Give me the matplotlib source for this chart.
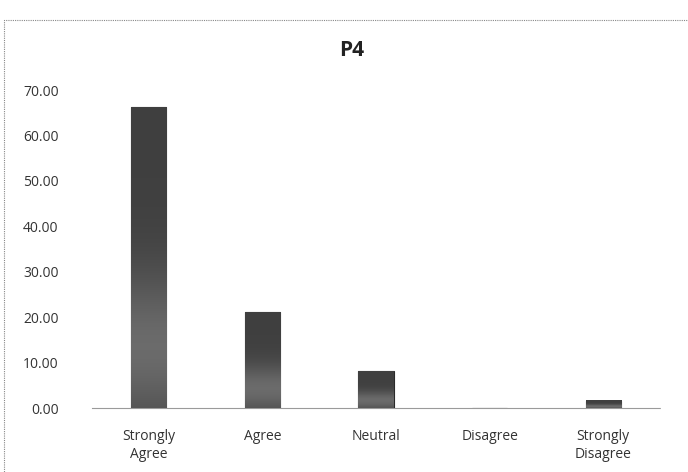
import matplotlib
matplotlib.use("Agg")
import matplotlib.pyplot as plt
import numpy as np
from matplotlib.patches import Rectangle

categories = ["Strongly\nAgree", "Agree", "Neutral", "Disagree", "Strongly\nDisagree"]
values = [66.2, 21.1, 8.1, 0.0, 1.6]
yticks = [0, 10, 20, 30, 40, 50, 60, 70]
ytick_labels = ["0.00", "10.00", "20.00", "30.00", "40.00", "50.00", "60.00", "70.00"]
title = "P4"

plt.rcParams['font.family'] = ['Open Sans', 'DejaVu Sans']

fig = plt.figure(figsize=(6.88, 4.72), dpi=100)
ax = fig.add_axes([92/688, 1 - 408/472, (660-92)/688, (408-90)/472])

x = np.arange(len(categories))
bars = ax.bar(x, values, width=0.31, color="#505050", edgecolor="#2a2a2a", linewidth=0.8, zorder=3)

# subtle vertical gradient inside bars
for b in bars:
    h = b.get_height()
    if h <= 0:
        continue
    grad = np.linspace(0, 1, 100).reshape(-1, 1)
    shade = 0.25 + 0.17 * np.exp(-((grad - 0.2) / 0.25) ** 2)
    ax.imshow(np.dstack([shade, shade, shade]), extent=(b.get_x(), b.get_x() + b.get_width(), 0, h),
              origin="lower", aspect="auto", zorder=4, interpolation="bilinear")

ax.set_xlim(-0.5, len(categories) - 0.5)
ax.set_ylim(0, 70)
ax.set_yticks(yticks)
ax.set_yticklabels(ytick_labels, fontsize=10, color="#333333")
ax.set_xticks(x)
ax.set_xticklabels(categories, fontsize=10, color="#333333", linespacing=1.25)
ax.tick_params(axis="y", length=0, pad=24)
ax.tick_params(axis="x", length=0, pad=15)
for s in ["top", "right", "left"]:
    ax.spines[s].set_visible(False)
ax.spines["bottom"].set_color("#9a9a9a")
ax.spines["bottom"].set_linestyle((0, (1, 1)))
ax.spines["bottom"].set_linewidth(0.8)

fig.text(352/688, 1 - 50/472, title, ha="center", va="center", fontsize=15, fontweight="bold", color="#222222")

# outer chart frame (dotted)
fig.patches.append(Rectangle((4/688, -0.01), 1.0, 1 - 20/472 + 0.01, transform=fig.transFigure,
                             fill=False, edgecolor="#888888", linewidth=0.8, linestyle=(0, (1, 1))))

fig.savefig("out.png", dpi=100)
